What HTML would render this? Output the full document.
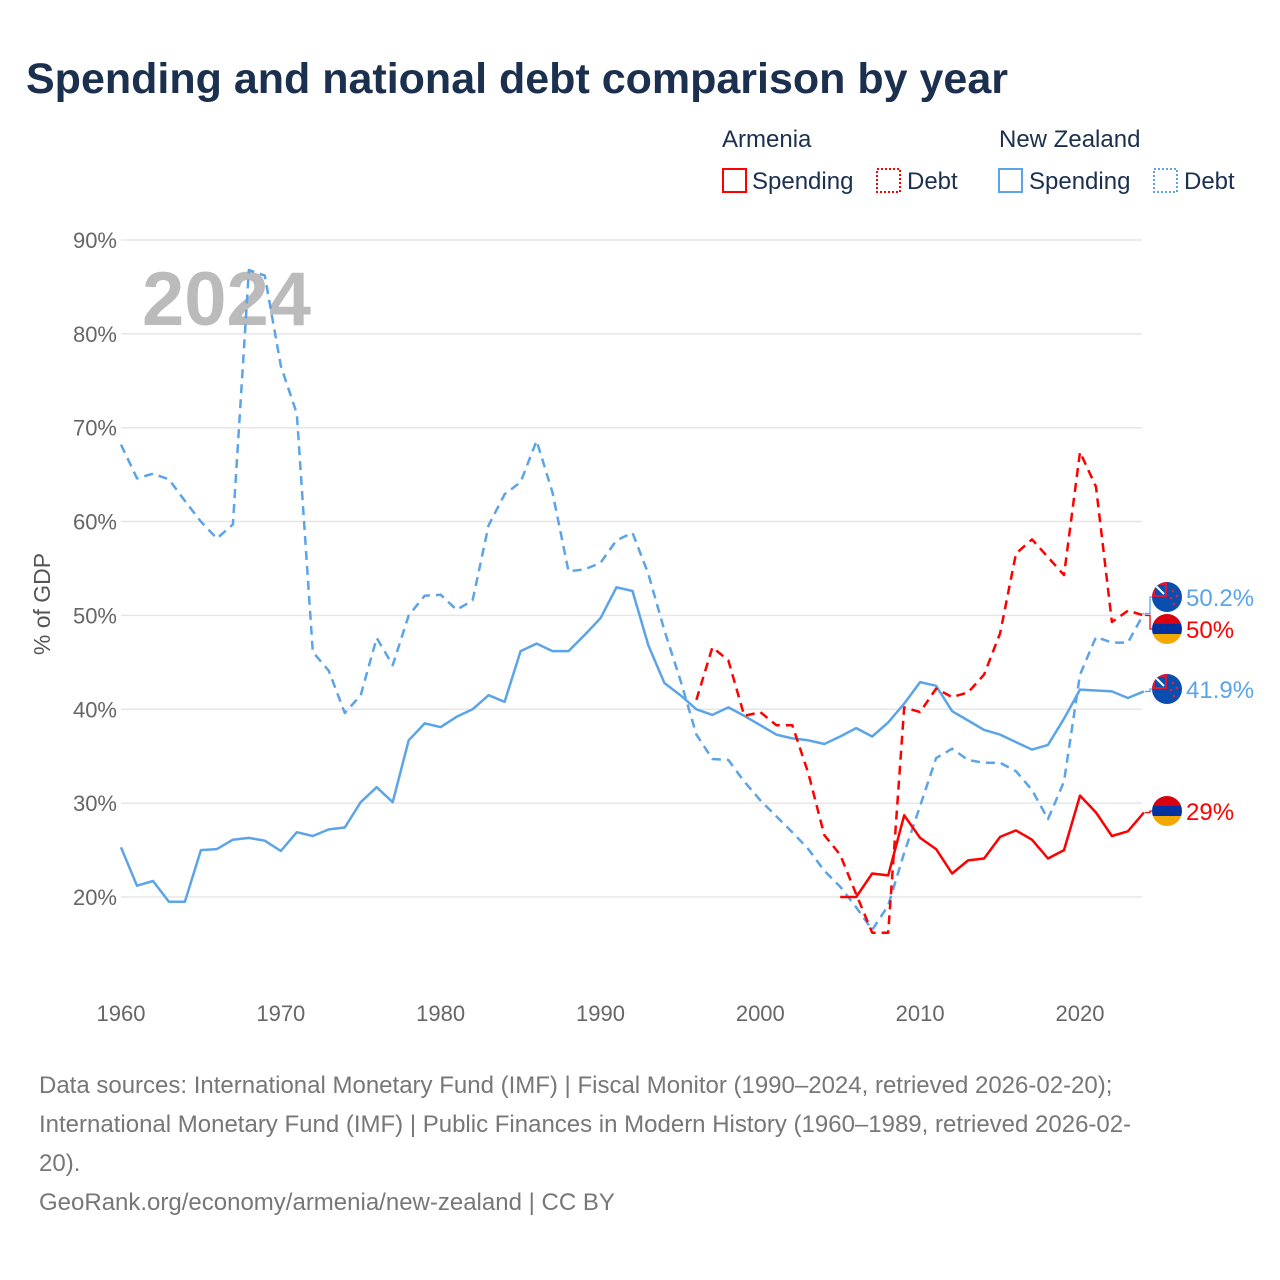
<!DOCTYPE html>
<html><head><meta charset="utf-8"><style>
body{margin:0;background:#fff;font-family:"Liberation Sans",sans-serif;}
#wrap{position:relative;width:1280px;height:1280px;overflow:hidden;}
svg text{font-family:"Liberation Sans",sans-serif;}
</style></head><body>
<div id="wrap">
<svg id="chart" width="1280" height="1280">
<text x="26" y="93" font-size="43" font-weight="bold" fill="#1b2f4e">Spending and national debt comparison by year</text>
<g font-size="24" fill="#1b2f4e">
<text x="722" y="147">Armenia</text>
<text x="999" y="147">New Zealand</text>
<g><rect x="723" y="169" width="23" height="23" fill="none" stroke="#f00" stroke-width="2"/><text x="752" y="189">Spending</text></g>
<g><rect x="877" y="169" width="23" height="23" fill="none" stroke="#f00" stroke-width="2" stroke-dasharray="2,2"/><text x="907" y="189">Debt</text></g>
<g><rect x="999" y="169" width="23" height="23" fill="none" stroke="#5ba4e8" stroke-width="2"/><text x="1029" y="189">Spending</text></g>
<g><rect x="1154" y="169" width="23" height="23" fill="none" stroke="#5ba4e8" stroke-width="2" stroke-dasharray="2,2"/><text x="1184" y="189">Debt</text></g>
</g>
<text x="142" y="325" font-size="76" font-weight="bold" fill="#bbb">2024</text>
<text transform="translate(50,604) rotate(-90)" text-anchor="middle" font-size="23" fill="#555">% of GDP</text>
<g id="grid"></g><g id="series"></g><g id="labels"></g>
<g font-size="24" fill="#777">
<text x="39" y="1093">Data sources: International Monetary Fund (IMF) | Fiscal Monitor (1990–2024, retrieved 2026-02-20);</text>
<text x="39" y="1132">International Monetary Fund (IMF) | Public Finances in Modern History (1960–1989, retrieved 2026-02-</text>
<text x="39" y="1171">20).</text>
<text x="39" y="1210">GeoRank.org/economy/armenia/new-zealand | CC BY</text>
</g>
</svg></div>
<script>
const yTicks=[20,30,40,50,60,70,80,90];
const xTicks=[1960,1970,1980,1990,2000,2010,2020];
const nzSpendStart=1960;
const nzSpending=[25.3,21.2,21.7,19.5,19.5,25.0,25.1,26.1,26.3,26.0,24.9,26.9,26.5,27.2,27.4,30.1,31.7,30.1,36.7,38.5,38.1,39.2,40.0,41.5,40.8,46.2,47.0,46.2,46.2,47.9,49.7,53.0,52.6,46.8,42.8,41.5,40.0,39.4,40.2,39.3,38.3,37.3,36.9,36.7,36.3,37.1,38.0,37.1,38.6,40.6,42.9,42.5,39.8,38.8,37.8,37.3,36.5,35.7,36.2,39.0,42.1,42.0,41.9,41.2,41.9];
const nzDebtStart=1960;
const nzDebt=[68.2,64.6,65.1,64.5,62.2,60.0,58.2,59.7,86.8,86.2,76.6,71.5,46.1,44.1,39.6,41.5,47.6,44.7,50.0,52.1,52.2,50.6,51.6,59.6,62.9,64.2,68.6,63.1,54.7,54.9,55.6,58.0,58.8,54.4,48.4,43.1,37.3,34.7,34.6,32.3,30.3,28.6,26.9,25.1,22.8,21.1,18.9,16.5,19.1,24.7,29.7,34.8,35.8,34.6,34.3,34.3,33.4,31.4,28.3,32.3,43.7,47.7,47.1,47.1,50.2];
const amSpendStart=2005;
const amSpending=[20.0,20.0,22.5,22.3,28.7,26.3,25.1,22.5,23.9,24.1,26.4,27.1,26.1,24.1,25.0,30.8,29.0,26.5,27.0,29.0];
const amDebtStart=1996;
const amDebt=[41.0,46.6,45.2,39.3,39.7,38.3,38.3,33.2,26.6,24.5,20.3,16.2,16.2,40.2,39.7,42.2,41.3,41.8,43.7,48.1,56.6,58.1,56.2,54.3,67.4,63.7,49.3,50.5,50.0];

const NS='http://www.w3.org/2000/svg';
const X=yr=>121+(yr-1960)*15.983;
const Y=v=>897-(v-20)*9.386;
function mk(tag,attrs,parent){const e=document.createElementNS(NS,tag);for(const k in attrs)e.setAttribute(k,attrs[k]);parent.appendChild(e);return e;}
const grid=document.getElementById('grid');
yTicks.forEach(t=>{
  const l=mk('line',{x1:121,x2:1142,y1:Y(t),y2:Y(t),stroke:'#e6e6e6','stroke-width':1.5},grid);
  
  
  const tx=mk('text',{x:117,y:Y(t)+8,'text-anchor':'end','font-size':22,fill:'#666'},grid);
  tx.textContent=t+'%';
  
  
});
xTicks.forEach(t=>{
  const tx=mk('text',{x:X(t),y:1021,'text-anchor':'middle','font-size':22,fill:'#666'},grid);
  tx.textContent=t;
  
  
});
const ser=document.getElementById('series');
function line(data,start,color,dash,name){
  const pts=data.map((v,i)=>X(start+i).toFixed(1)+','+Y(v).toFixed(1)).join(' ');
  const p=mk('polyline',{points:pts,fill:'none',stroke:color,'stroke-width':2.5,'stroke-linejoin':'round'},ser);
  if(dash)p.setAttribute('stroke-dasharray','9,6');
  
  
}
line(nzSpending,nzSpendStart,'#5ba4e8',false,'nz-spending-line');
line(nzDebt,nzDebtStart,'#5ba4e8',true,'nz-debt-line');
line(amSpending,amSpendStart,'#ff0000',false,'armenia-spending-line');
line(amDebt,amDebtStart,'#ff0000',true,'armenia-debt-line');

const lab=document.getElementById('labels');
function flag(cy,type,g){
  const cx=1167,r=15;
  const id='c'+Math.round(cy);
  const cp=mk('clipPath',{id:id},g);mk('circle',{cx:cx,cy:cy,r:r},cp);
  const fg=mk('g',{'clip-path':'url(#'+id+')'},g);
  if(type==='nz'){
    mk('rect',{x:cx-r,y:cy-r,width:2*r,height:2*r,fill:'#0a4fb0'},fg);
    mk('rect',{x:cx-r,y:cy-r,width:r,height:r,fill:'#d8193c'},fg);
    mk('rect',{x:cx-r+3,y:cy-r+3,width:r-5,height:r-5,fill:'#0a4fb0'},fg);
    mk('line',{x1:cx-r+4,y1:cy-r+4,x2:cx-3,y2:cy-3,stroke:'#fff','stroke-width':2},fg);
    [[6,-6],[10,-1],[4,1],[7,7]].forEach(s=>mk('circle',{cx:cx+s[0],cy:cy+s[1],r:1.3,fill:'#e0203a'},fg));
  }else{
    mk('rect',{x:cx-r,y:cy-r,width:2*r,height:10,fill:'#d90012'},fg);
    mk('rect',{x:cx-r,y:cy-r+10,width:2*r,height:10,fill:'#0033a0'},fg);
    mk('rect',{x:cx-r,y:cy-r+20,width:2*r,height:10,fill:'#f2a800'},fg);
  }
}
function label(v,ly,type,color,name){
  const g=mk('g',{},lab);
  
  
  mk('polyline',{points:(X(2024)+1)+','+Y(v)+' 1150,'+Y(v)+' 1150,'+ly+' 1152,'+ly,fill:'none',stroke:color,'stroke-width':1.3},g);
  flag(ly,type,g);
  const t=mk('text',{x:1186,y:ly+9,'font-size':24,fill:color},g);
  t.textContent=v+'%';
}
label(nzDebt[nzDebt.length-1],597,'nz','#5ba4e8','nz-debt-end-label');
label(amDebt[amDebt.length-1],629,'am','#ff0000','armenia-debt-end-label');
label(nzSpending[nzSpending.length-1],689,'nz','#5ba4e8','nz-spending-end-label');
label(amSpending[amSpending.length-1],811,'am','#ff0000','armenia-spending-end-label');
</script>
</body></html>
